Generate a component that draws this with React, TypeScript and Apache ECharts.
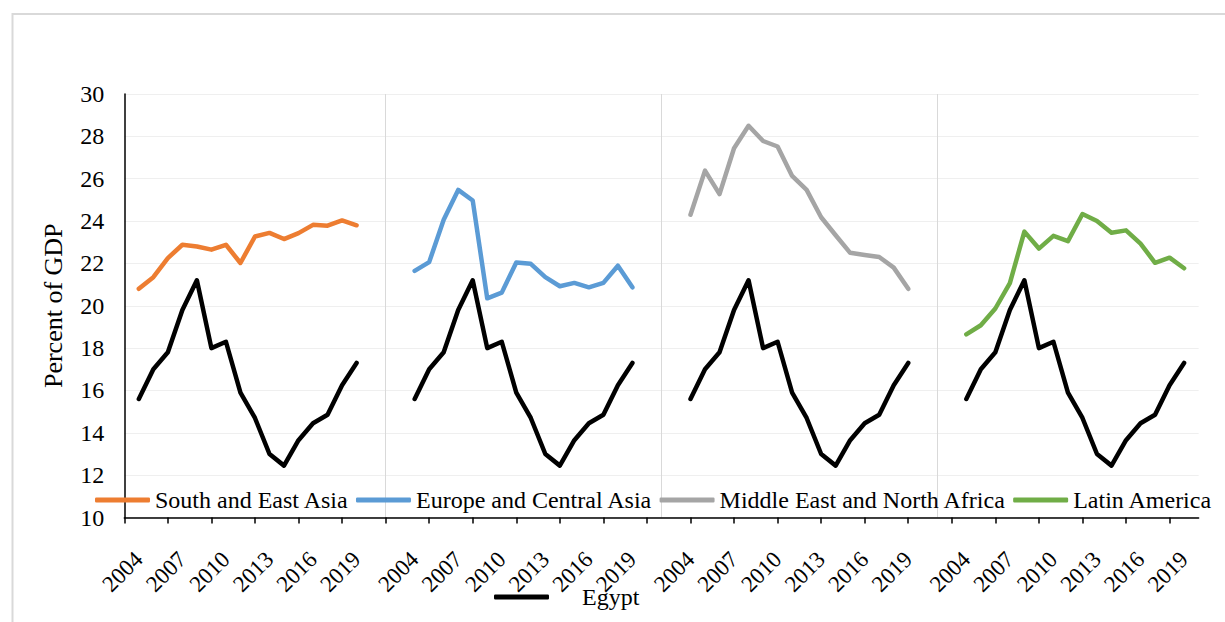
import React, { useEffect, useRef } from "react";
import * as echarts from "echarts";

// ---------- data ----------
const years = [2004, 2005, 2006, 2007, 2008, 2009, 2010, 2011, 2012, 2013, 2014, 2015, 2016, 2017, 2018, 2019];
const labelYears = [2004, 2007, 2010, 2013, 2016, 2019];

const egypt = [15.6, 17.0, 17.8, 19.8, 21.2, 18.0, 18.3, 15.9, 14.7, 13.0, 12.45, 13.65, 14.45, 14.85, 16.25, 17.3];
const southEastAsia = [20.8, 21.35, 22.25, 22.88, 22.8, 22.65, 22.88, 22.02, 23.27, 23.44, 23.15, 23.43, 23.82, 23.78, 24.03, 23.8];
const europeCentralAsia = [21.65, 22.06, 24.06, 25.47, 24.97, 20.35, 20.62, 22.04, 21.98, 21.35, 20.92, 21.08, 20.87, 21.08, 21.89, 20.87];
const middleEastNorthAfrica = [24.3, 26.38, 25.27, 27.44, 28.5, 27.78, 27.52, 26.13, 25.47, 24.18, 23.33, 22.5, 22.4, 22.3, 21.8, 20.8];
const latinAmerica = [18.65, 19.08, 19.87, 21.07, 23.5, 22.7, 23.3, 23.05, 24.33, 24.0, 23.45, 23.56, 22.93, 22.03, 22.27, 21.77];

const regionNames = ["South and East Asia", "Europe and Central Asia", "Middle East and North Africa", "Latin America"];
const regionValues = [southEastAsia, europeCentralAsia, middleEastNorthAfrica, latinAmerica];
const regionColors = ["#ED7D31", "#5B9BD5", "#A5A5A5", "#70AD47"];
const egyptName = "Egypt";
const egyptColor = "#000000";

// ---------- layout of the single category axis (4 panels) ----------
const PANEL_STRIDE = 19; // 16 years + 3 blank slots
const LEAD = 1; // one blank slot before each panel's first year
const TOTAL = 75;
const separators = [18, 37, 56];

const FONT = "'Liberation Serif', 'Times New Roman', serif";

function buildCategories(): string[] {
  const cats: string[] = new Array(TOTAL).fill("");
  for (let p = 0; p < regionNames.length; p++) {
    years.forEach((y, i) => {
      if (labelYears.includes(y)) cats[p * PANEL_STRIDE + LEAD + i] = String(y);
    });
  }
  return cats;
}

function panelData(values: number[], panels: number[]): (number | null)[] {
  const out: (number | null)[] = new Array(TOTAL).fill(null);
  panels.forEach((p) => {
    values.forEach((v, i) => {
      out[p * PANEL_STRIDE + LEAD + i] = v;
    });
  });
  return out;
}

export default function App() {
  const ref = useRef<HTMLDivElement>(null);

  useEffect(() => {
    if (!ref.current) return;
    const chart = echarts.init(ref.current, undefined, { renderer: "svg" });

    const lineCommon = {
      type: "line" as const,
      symbol: "none",
      connectNulls: false,
      silent: true,
    };

    const series: any[] = regionNames.map((name, p) => ({
      ...lineCommon,
      name,
      color: regionColors[p],
      itemStyle: { color: regionColors[p] },
      lineStyle: { color: regionColors[p], width: 4.5, cap: "round", join: "round" },
      data: panelData(regionValues[p], [p]),
    }));
    series.push({
      ...lineCommon,
      name: egyptName,
      color: egyptColor,
      itemStyle: { color: egyptColor },
      lineStyle: { color: egyptColor, width: 4.5, cap: "round", join: "round" },
      data: panelData(egypt, [0, 1, 2, 3]),
    });

    const legendCommon = {
      orient: "horizontal" as const,
      icon: "roundRect",
      itemWidth: 55,
      itemHeight: 5,
      itemGap: 7,
      padding: 0,
      selectedMode: false,
      textStyle: { fontFamily: FONT, fontSize: 24, color: "#000" },
    };

    chart.setOption({
      animation: false,
      backgroundColor: "#ffffff",
      textStyle: { fontFamily: FONT },
      graphic: [
        {
          type: "rect",
          shape: { x: 12.5, y: 14, width: 1300, height: 700 },
          style: { fill: "none", stroke: "#d9d9d9", lineWidth: 2 },
          silent: true,
        },
      ],
      grid: {
        left: 124.3,
        right: 26.4,
        top: 94,
        bottom: 104.5,
        containLabel: false,
        outerBoundsMode: "none",
      },
      legend: [
        { ...legendCommon, data: regionNames, left: 95, top: 488 },
        {
          ...legendCommon,
          data: [egyptName],
          left: 494,
          top: 585,
          textStyle: { ...legendCommon.textStyle, padding: [0, 0, 0, 28] },
        },
      ],
      xAxis: {
        type: "category",
        data: buildCategories(),
        boundaryGap: false,
        axisLine: { show: true, lineStyle: { color: "#000", width: 1.5 } },
        axisTick: {
          show: true,
          interval: (index: number) => index % 3 === 0,
          length: 6,
          lineStyle: { color: "#000", width: 1.5 },
        },
        axisLabel: {
          interval: 0,
          rotate: 45,
          margin: 38,
          align: "right",
          verticalAlign: "middle",
          fontFamily: FONT,
          fontSize: 23,
          color: "#000",
        },
        splitLine: {
          show: true,
          interval: (index: number) => separators.includes(index),
          lineStyle: { color: "#d9d9d9", width: 1 },
        },
      },
      yAxis: {
        type: "value",
        min: 10,
        max: 30,
        interval: 2,
        name: "Percent of GDP",
        nameLocation: "middle",
        nameGap: 58,
        nameTextStyle: { fontFamily: FONT, fontSize: 26, color: "#000" },
        axisLine: { show: true, lineStyle: { color: "#000", width: 1.5 } },
        axisTick: { show: false },
        axisLabel: { margin: 20, fontFamily: FONT, fontSize: 24, color: "#000" },
        splitLine: { show: true, lineStyle: { color: "#efefef", width: 1 } },
      },
      series,
    });

    return () => {
      chart.dispose();
    };
  }, []);

  return (
    <div
      ref={ref}
      style={{ position: "fixed", left: 0, top: 0, width: 1225, height: 622, background: "#fff" }}
    />
  );
}
